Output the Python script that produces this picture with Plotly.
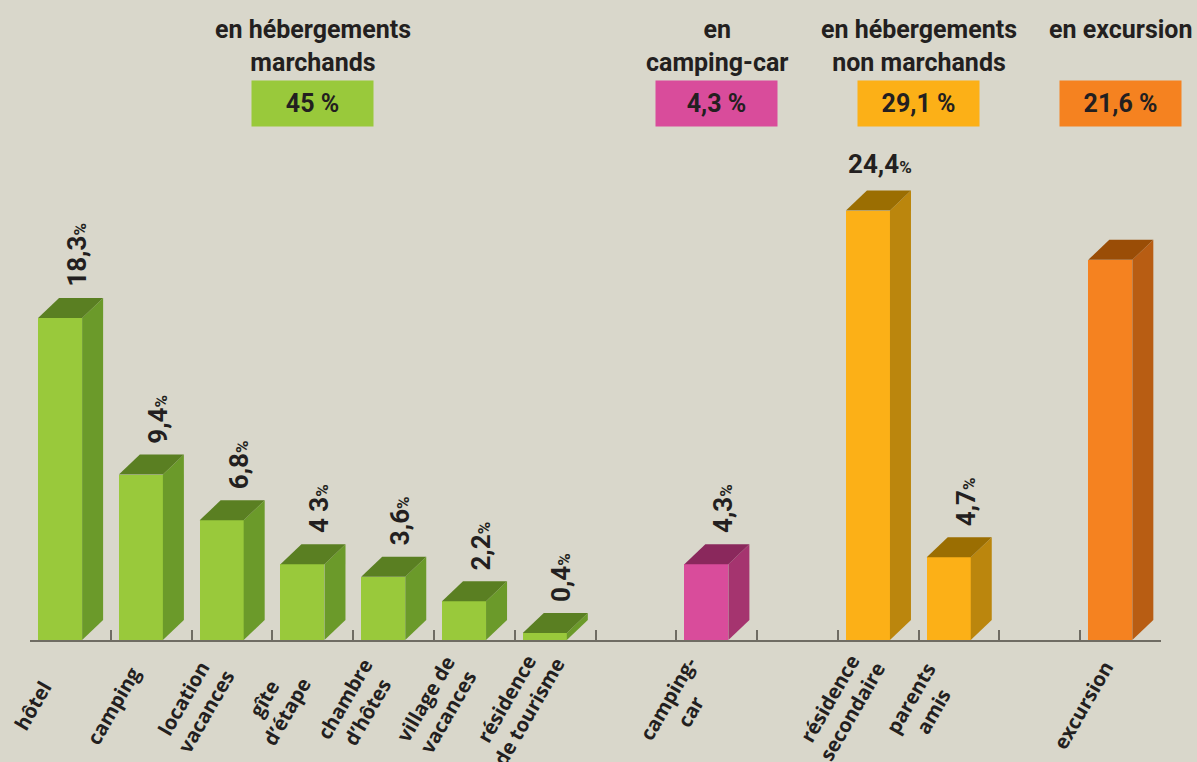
"""Répartition des nuitées par mode d'hébergement — barres pseudo-3D."""
import plotly.graph_objects as go

# ── Data ─────────────────────────────────────────────────────────────────────
categories = ["hôtel", "camping", "location<br>vacances", "gîte<br>d’étape",
              "chambre<br>d’hôtes", "village de<br>vacances",
              "résidence<br>de tourisme", "camping-<br>car",
              "résidence<br>secondaire", "parents<br>amis", "excursion"]
slots = [0, 1, 2, 3, 4, 5, 6, 8, 10, 11, 13]
values = [18.3, 9.4, 6.8, 4.3, 3.6, 2.2, 0.4, 4.3, 24.4, 4.7, 21.6]
value_labels = ["18,3", "9,4", "6,8", "4 3", "3,6", "2,2", "0,4",
                "4,3", "24,4", "4,7", ""]
bar_group = [0, 0, 0, 0, 0, 0, 0, 1, 2, 2, 3]

group_titles = ["en hébergements<br>marchands", "en<br>camping-car",
                "en hébergements<br>non marchands", "en excursion"]
group_totals = ["45 %", "4,3 %", "29,1 %", "21,6 %"]

# front / side / top colour per group
FRONT = ["#99c93b", "#d94c9b", "#fcb017", "#f58220"]
SIDE = ["#6b9a2a", "#a5346f", "#bb860d", "#b85d13"]
TOP = ["#5a7f22", "#8a285c", "#9b6e02", "#9a4d06"]

BG = "#d9d7cb"
INK = "#231f20"
AXIS = "#6f6c63"

# geometry (slot units on x, % on y)
N_SLOTS = 14
PX_PER_PCT = 17.6
PLOT_H = 640
X0, W = 0.10, 0.545          # front face start and width inside a slot
DX, DY = 0.26, 20 / PX_PER_PCT  # depth offset of the 3D faces

fig = go.Figure()

# front faces
fig.add_trace(go.Bar(
    x=[s + X0 + W / 2 for s in slots], y=values, width=W,
    marker=dict(color=[FRONT[g] for g in bar_group], line_width=0),
    hoverinfo="skip", showlegend=False,
))

# side and top faces
for s, v, g in zip(slots, values, bar_group):
    xa, xb = s + X0, s + X0 + W
    fig.add_trace(go.Scatter(
        x=[xb, xb, xb + DX, xb + DX, xb], y=[0, v, v + DY, DY, 0],
        mode="lines", fill="toself", fillcolor=SIDE[g], line_width=0,
        hoverinfo="skip", showlegend=False,
    ))
    fig.add_trace(go.Scatter(
        x=[xa, xb, xb + DX, xa + DX, xa], y=[v, v, v + DY, v + DY, v],
        mode="lines", fill="toself", fillcolor=TOP[g], line_width=0,
        hoverinfo="skip", showlegend=False,
    ))

# value labels (the tallest one is written flat, the others vertically)
for s, v, lab in zip(slots, values, value_labels):
    if not lab:
        continue
    txt = f"<b>{lab}</b><span style='font-size:17px'><b>%</b></span>"
    flat = v == max(values)
    fig.add_annotation(
        x=s + (0.52 if flat else 0.58), y=v + DY, xref="x", yref="y",
        text=txt, showarrow=False, textangle=0 if flat else -90,
        xanchor="center", yanchor="bottom", yshift=10 if flat else 9,
        font=dict(family="Roboto", size=26, color=INK),
    )

# category labels under the axis
for s, cat in zip(slots, categories):
    fig.add_annotation(
        x=s + 0.03, y=-(705 - PLOT_H) / PLOT_H, xref="x", yref="paper",
        text=f"<b>{cat}</b>", showarrow=False, textangle=-60,
        xanchor="center", yanchor="middle", align="center",
        font=dict(family="Open Sans", size=20, color=INK),
    )

# group headers and totals
for gi, (title, total) in enumerate(zip(group_titles, group_totals)):
    xs = [s + 0.5 for s, g in zip(slots, bar_group) if g == gi]
    xc = sum(xs) / len(xs)
    fig.add_annotation(
        x=xc, y=1 - 13 / PLOT_H, xref="x", yref="paper",
        text=f"<b>{title}</b>", showarrow=False,
        xanchor="center", yanchor="top", align="center",
        font=dict(family="Roboto", size=25, color=INK),
    )
    fig.add_annotation(
        x=xc, y=1 - 103.5 / PLOT_H, xref="x", yref="paper",
        text=f"<b>{total}</b>", showarrow=False,
        xanchor="center", yanchor="middle",
        width=121, height=45, bgcolor=FRONT[gi], borderpad=0,
        font=dict(family="Roboto", size=25, color=INK),
    )

fig.update_layout(
    width=1197, height=762,
    paper_bgcolor=BG, plot_bgcolor=BG,
    margin=dict(l=30, r=36, t=0, b=122),
    bargap=0, showlegend=False,
    xaxis=dict(range=[0, N_SLOTS], showgrid=False, zeroline=False,
               showline=True, linecolor=AXIS, linewidth=2,
               ticks="inside", tickvals=list(range(N_SLOTS + 1)),
               ticklen=10, tickwidth=1.5, tickcolor=AXIS,
               showticklabels=False, fixedrange=True),
    yaxis=dict(range=[0, PLOT_H / PX_PER_PCT], visible=False,
               fixedrange=True),
)

# drop the page's default body margin so the figure sits at the top-left
fig.write_html(
    "out.html",
    config={"displayModeBar": False},
    post_script=f"document.body.style.margin='0';"
                f"document.body.style.background='{BG}';"
                f"document.body.style.overflow='hidden';",
)
